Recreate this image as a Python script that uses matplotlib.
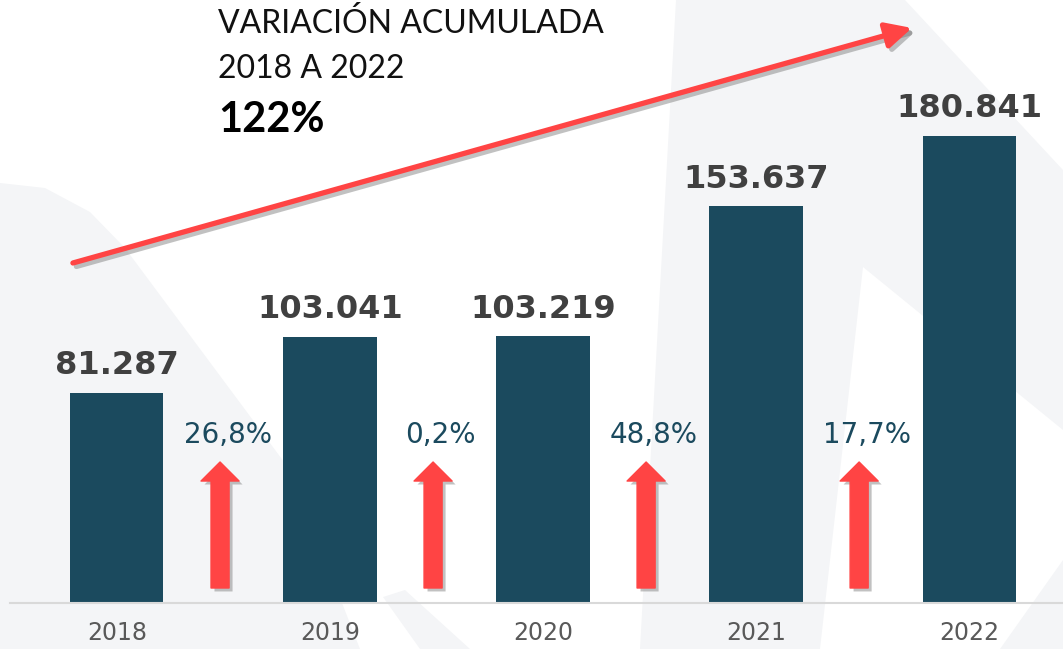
import matplotlib
matplotlib.use("Agg")
import matplotlib.pyplot as plt
from matplotlib.patches import FancyArrowPatch, Polygon
import matplotlib.patheffects as pe

# ---- data ----
years = ["2018", "2019", "2020", "2021", "2022"]
values = [81287, 103041, 103219, 153637, 180841]
value_labels = ["81.287", "103.041", "103.219", "153.637", "180.841"]
pct_labels = ["26,8%", "0,2%", "48,8%", "17,7%"]
title_lines = ["VARIACIÓN ACUMULADA", "2018 A 2022"]
total_label = "122%"

BAR = "#1b4a5e"
RED = "#ff4444"
W, H = 1063, 649

fig = plt.figure(figsize=(W / 100, H / 100), dpi=100, facecolor="white")

# background watermark (pixel coordinates)
bg = fig.add_axes([0, 0, 1, 1], zorder=0)
bg.set_xlim(0, W)
bg.set_ylim(H, 0)
bg.axis("off")
wm = "#f4f5f7"
shapes = [
    [(0, 183), (45, 188), (90, 212), (125, 248), (290, 470), (360, 649), (0, 649)],
    [(676, 0), (905, 0), (1063, 170), (1063, 430), (863, 267), (820, 649), (640, 649)],
    [(1063, 560), (1063, 649), (1000, 649)],
    [(383, 597), (420, 649), (470, 649), (405, 590)],
]
for s in shapes:
    bg.add_patch(Polygon(s, closed=True, facecolor=wm, edgecolor="none"))

# main axes
ax = fig.add_axes([10 / W, 46 / H, 1053 / W, 603 / H], zorder=1)
ax.patch.set_alpha(0)
pos = list(range(len(years)))
ax.bar(pos, values, width=0.437, color=BAR, zorder=2)
ax.set_xlim(-0.502, 4.441)
ax.set_ylim(0, 233530)
for s in ["top", "right", "left"]:
    ax.spines[s].set_visible(False)
ax.spines["bottom"].set_color("#d9d9d9")
ax.spines["bottom"].set_linewidth(1.5)
ax.set_yticks([])
ax.set_xticks(pos)
ax.set_xticklabels(years, fontsize=17, color="#595959", family="DejaVu Sans")
ax.tick_params(axis="x", length=0, pad=13)

# value labels
for p, v, lab in zip(pos, values, value_labels):
    ax.annotate(lab, (p, v), xytext=(0, 13.5), textcoords="offset points",
                ha="center", va="baseline", fontsize=23, fontweight="bold",
                color="#404040", family="DejaVu Sans")

shadow = [pe.SimplePatchShadow(offset=(2.5, -2.5), shadow_rgbFace="#777777", alpha=0.45), pe.Normal()]

# percentage labels & small arrows
for i, lab in enumerate(pct_labels):
    ax.text(i + 0.52, 61970, lab, ha="center", va="baseline", fontsize=20,
            color=BAR, family="DejaVu Sans")
    arr = FancyArrowPatch((i + 0.484, 5810), (i + 0.484, 54610),
                          arrowstyle="simple,head_length=13.7,head_width=27.4,tail_width=13",
                          mutation_scale=1, color=RED, shrinkA=0, shrinkB=0,
                          zorder=3, clip_on=False)
    arr.set_path_effects(shadow)
    ax.add_patch(arr)

# big diagonal arrow
big = FancyArrowPatch((-0.2066, 131680), (3.732, 222700),
                      arrowstyle="-|>,head_length=1.3,head_width=0.65",
                      mutation_scale=12, color=RED, lw=3.8, shrinkA=0, shrinkB=0,
                      zorder=3, clip_on=False)
big.set_path_effects([pe.SimpleLineShadow(offset=(2.5, -2.5), shadow_color="#777777", alpha=0.45), pe.Normal()])
ax.add_patch(big)

# title text (pixel coords on bg axes)
bg.text(218, 33, title_lines[0], fontsize=23, family="Lato", color="#111111", va="baseline", ha="left")
bg.text(218, 78, title_lines[1], fontsize=23, family="Lato", color="#111111", va="baseline", ha="left")
bg.text(218, 132, total_label, fontsize=30, family="Lato", fontweight="bold", color="#000000",
        va="baseline", ha="left")

fig.savefig("out.png", dpi=100, facecolor="white")
